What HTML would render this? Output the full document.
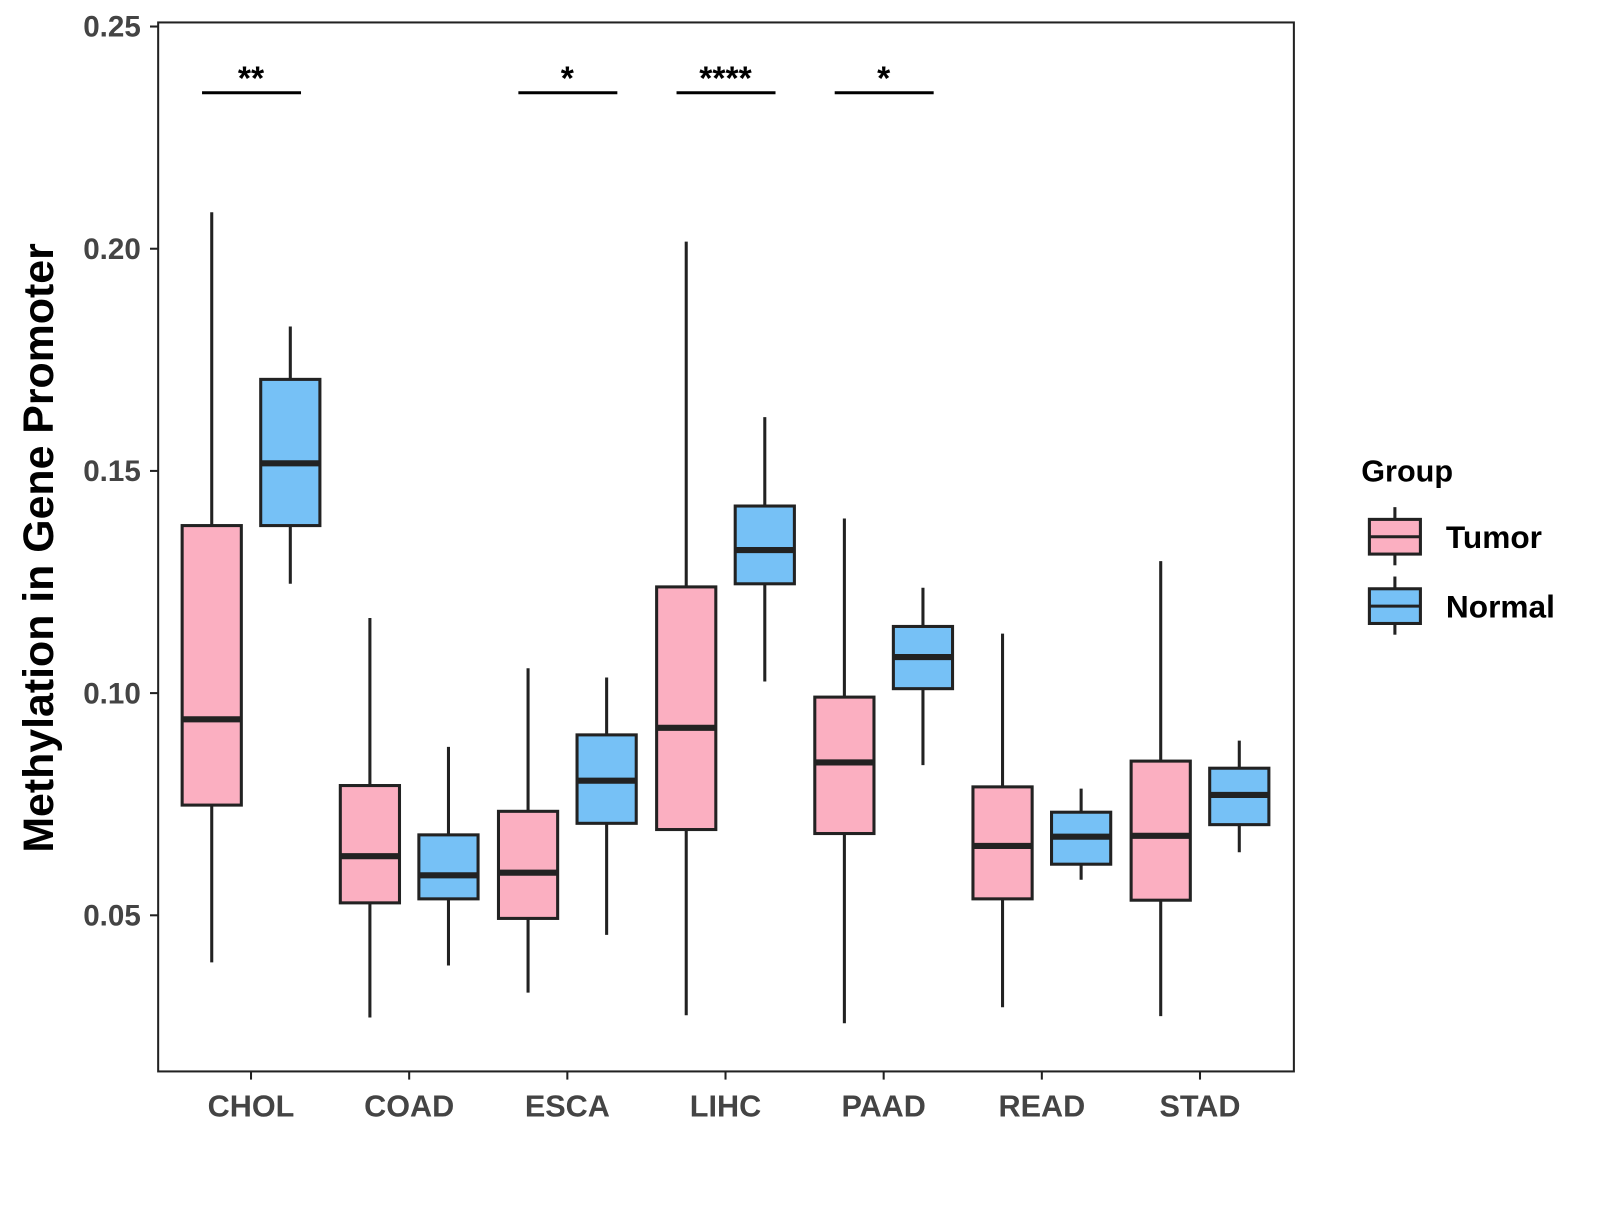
<!DOCTYPE html>
<html><head><meta charset="utf-8"><style>
body{margin:0;background:#fff}
svg text{font-family:"Liberation Sans",Arial,sans-serif;font-weight:bold}
</style></head><body>
<svg id="chart" width="1600" height="1200" viewBox="0 0 1568 1176" xmlns="http://www.w3.org/2000/svg">
<rect x="155" y="22" width="1113" height="1028" fill="#fff" stroke="#222" stroke-width="2"/>
<g id="marks"></g>
<text transform="translate(52,537) rotate(-90)" text-anchor="middle" font-size="42" fill="#000">Methylation in Gene Promoter</text>
<g>
<text x="1334" y="472" font-size="30" fill="#000">Group</text>
<g>
<line x1="1367" y1="497" x2="1367" y2="554" stroke="#222" stroke-width="3"/>
<rect x="1342" y="509" width="50" height="34" fill="#fbafc1" stroke="#222" stroke-width="3"/>
<line x1="1342" y1="526" x2="1392" y2="526" stroke="#222" stroke-width="3"/>
<text x="1417" y="537" font-size="31" fill="#000">Tumor</text></g>
<g>
<line x1="1367" y1="565" x2="1367" y2="622" stroke="#222" stroke-width="3"/>
<rect x="1342" y="577" width="50" height="34" fill="#76c1f6" stroke="#222" stroke-width="3"/>
<line x1="1342" y1="594" x2="1392" y2="594" stroke="#222" stroke-width="3"/>
<text x="1417" y="605" font-size="31" fill="#000">Normal</text></g>
</g>
</svg>
<script>
const categories=["CHOL","COAD","ESCA","LIHC","PAAD","READ","STAD"];
const tumorStats=[[0.0394,0.0748,0.0941,0.1377,0.2082],[0.0270,0.0528,0.0633,0.0792,0.1169],[0.0326,0.0493,0.0596,0.0734,0.1056],[0.0275,0.0693,0.0922,0.1239,0.2016],[0.0257,0.0684,0.0844,0.0991,0.1393],[0.0293,0.0537,0.0656,0.0789,0.1134],[0.0273,0.0534,0.0679,0.0847,0.1297]];
const normalStats=[[0.1246,0.1377,0.1517,0.1706,0.1825],[0.0387,0.0537,0.0590,0.0681,0.0879],[0.0456,0.0707,0.0803,0.0906,0.1035],[0.1026,0.1246,0.1322,0.1421,0.1621],[0.0838,0.1010,0.1081,0.1150,0.1237],[0.0580,0.0615,0.0677,0.0732,0.0785],[0.0642,0.0704,0.0771,0.0831,0.0893]];
const sigLabels=["**","","*","****","*","",""];
const sigLevel=0.2351;
const yTicks=[0.05,0.10,0.15,0.20,0.25];
const yTickLabels=["0.05","0.10","0.15","0.20","0.25"];
const NS="http://www.w3.org/2000/svg";
const y=v=>26+(0.25-v)*4355;
const x=i=>246+i*155;
const g=document.getElementById('marks');
function mk(t,a,p){const e=document.createElementNS(NS,t);for(const k in a)e.setAttribute(k,a[k]);(p||g).appendChild(e);return e;}
yTicks.forEach((v,i)=>{
 const l=mk('line',{x1:147,x2:155,y1:y(v),y2:y(v),stroke:'#222','stroke-width':2});
 
 
 const t=mk('text',{x:138,y:y(v)+10,'text-anchor':'end','font-size':29,fill:'#444'});
 t.textContent=yTickLabels[i];
 
 
});
function box(s,cx,fill,name){
 const gg=mk('g',{});
 
 
 mk('line',{x1:cx,x2:cx,y1:y(s[0]),y2:y(s[4]),stroke:'#222','stroke-width':3},gg);
 mk('rect',{x:cx-29,y:y(s[3]),width:58,height:y(s[1])-y(s[3]),fill:fill,stroke:'#222','stroke-width':3},gg);
 mk('line',{x1:cx-29,x2:cx+29,y1:y(s[2]),y2:y(s[2]),stroke:'#222','stroke-width':6},gg);
}
categories.forEach((c,i)=>{
 const cx=x(i);
 const tk=mk('line',{x1:cx,x2:cx,y1:1050,y2:1058,stroke:'#222','stroke-width':2});
 
 
 const t=mk('text',{x:cx,y:1094,'text-anchor':'middle','font-size':30,fill:'#444'});
 t.textContent=c;
 
 
 box(tumorStats[i],cx-38.5,'#fbafc1','box-tumor-'+c.toLowerCase());
 box(normalStats[i],cx+38.5,'#76c1f6','box-normal-'+c.toLowerCase());
 if(sigLabels[i]){
  const b=mk('line',{x1:cx-48,x2:cx+49,y1:y(sigLevel),y2:y(sigLevel),stroke:'#000','stroke-width':3});
  
  
  const s=mk('text',{x:cx,y:y(sigLevel)-3,'text-anchor':'middle','font-size':33,fill:'#000'});
  s.textContent=sigLabels[i];
  
  
 }
});
</script>
</body></html>
